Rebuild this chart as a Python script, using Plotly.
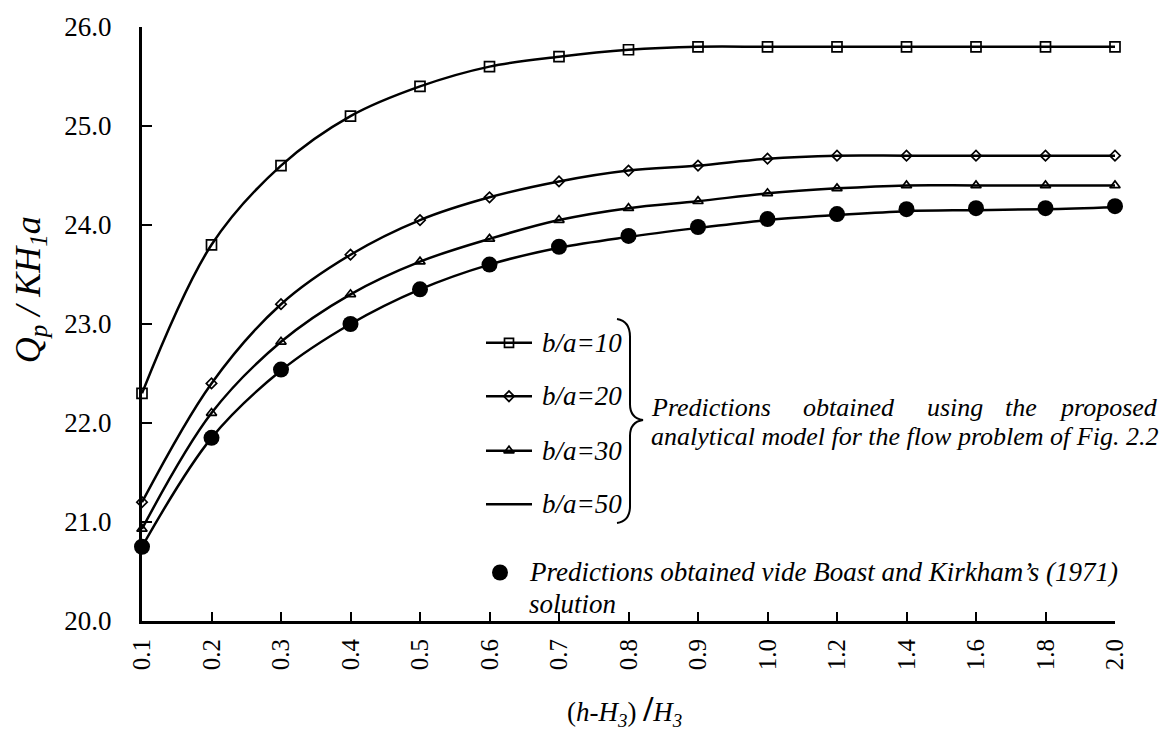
import plotly.graph_objects as go

# Relative head (h-H3)/H3 — category positions along the x axis
x_labels = ['0.1', '0.2', '0.3', '0.4', '0.5', '0.6', '0.7', '0.8', '0.9',
            '1.0', '1.2', '1.4', '1.6', '1.8', '2.0']

# Dimensionless discharge Qp/(K H1 a) from the analytical model
ba10 = [22.30, 23.80, 24.60, 25.10, 25.40, 25.60, 25.70, 25.77, 25.80,
        25.80, 25.80, 25.80, 25.80, 25.80, 25.80]
ba20 = [21.20, 22.40, 23.20, 23.70, 24.05, 24.28, 24.44, 24.55, 24.60,
        24.67, 24.70, 24.70, 24.70, 24.70, 24.70]
ba30 = [20.93, 22.10, 22.82, 23.30, 23.63, 23.86, 24.05, 24.17, 24.24,
        24.32, 24.37, 24.40, 24.40, 24.40, 24.40]
ba50 = [20.75, 21.85, 22.53, 23.00, 23.35, 23.60, 23.77, 23.88, 23.97,
        24.05, 24.10, 24.14, 24.15, 24.16, 24.18]

# Boast and Kirkham (1971) solution
boast_kirkham = [20.75, 21.85, 22.54, 23.00, 23.35, 23.60, 23.78, 23.89, 23.98,
                 24.06, 24.11, 24.16, 24.17, 24.17, 24.19]

y_ticks = [20, 21, 22, 23, 24, 25, 26]

FONT = 'Liberation Serif, Times New Roman, serif'
W, H = 1173, 751
L, R, T, B = 142, 58, 21, 130
PW, PH = W - L - R, H - T - B


def px(x):
    return (x - L) / PW


def py(y):
    return (H - B - y) / PH


fig = go.Figure()

line = dict(color='black', width=2.5, shape='spline', smoothing=1.0)
series = [
    (ba10, dict(symbol='square-open', size=10, color='black', line=dict(width=1.7))),
    (ba20, dict(symbol='diamond-open', size=8, color='black', line=dict(width=1.7))),
    (ba30, dict(symbol='triangle-up-open', size=9, color='black', line=dict(width=1.7))),
]
for vals, mk in series:
    fig.add_trace(go.Scatter(x=x_labels, y=vals, mode='lines+markers', line=line,
                             marker=mk, cliponaxis=False, showlegend=False))
fig.add_trace(go.Scatter(x=x_labels, y=ba50, mode='lines', line=line,
                         cliponaxis=False, showlegend=False))
fig.add_trace(go.Scatter(x=x_labels, y=boast_kirkham, mode='markers',
                         marker=dict(symbol='circle', size=16, color='black'),
                         cliponaxis=False, showlegend=False))

# Key: sample lines with their markers, placed in pixel space on an overlay axis
key_rows = [('b/a=10', 340, 'square-open', 9), ('b/a=20', 394, 'diamond-open', 8),
            ('b/a=30', 449, 'triangle-up-open', 9), ('b/a=50', 503, None, 0)]
shapes = []
annotations = []
for label, yy, sym, sz in key_rows:
    shapes.append(dict(type='line', xref='paper', yref='paper',
                       x0=px(486), x1=px(532), y0=py(yy), y1=py(yy),
                       line=dict(color='black', width=2.5)))
    if sym:
        fig.add_trace(go.Scatter(x=[509], y=[yy], xaxis='x2', yaxis='y2', mode='markers',
                                 marker=dict(symbol=sym, size=sz, color='black',
                                             line=dict(width=1.7)),
                                 showlegend=False))
    annotations.append(dict(xref='paper', yref='paper', x=px(540), y=py(yy),
                            xanchor='left', yanchor='middle', showarrow=False,
                            text='<i>' + label + '</i>',
                            font=dict(family=FONT, size=27, color='black')))

fig.add_trace(go.Scatter(x=[500], y=[572], xaxis='x2', yaxis='y2', mode='markers',
                         marker=dict(symbol='circle', size=16, color='black'),
                         showlegend=False))

# Curly brace grouping the model curves
brace = ('M {a},{b} Q {c},{d} {c},{e} L {c},{f} Q {c},{g} {h},{i} '
         'Q {c},{j} {c},{k} L {c},{l} Q {c},{m} {a},{n}').format(
    a=px(617), b=py(316), c=px(630), d=py(318), e=py(334), f=py(402),
    g=py(416), h=px(643), i=py(418), j=py(420), k=py(434), l=py(505),
    m=py(520), n=py(522))
shapes.append(dict(type='path', xref='paper', yref='paper', path=brace,
                   line=dict(color='black', width=2)))

txt_font = dict(family=FONT, size=26, color='black')
# first line, justified word by word (evenly spread between 649 and 1160)
for word, xx, anchor in [('Predictions', 649, 'left'), ('obtained', 801, 'left'),
                         ('using', 925, 'left'), ('the', 1003, 'left'),
                         ('proposed', 1160, 'right')]:
    annotations.append(dict(xref='paper', yref='paper', x=px(xx), y=py(405),
                            xanchor=anchor, yanchor='middle', showarrow=False,
                            text='<i>' + word + '</i>', font=txt_font))
annotations.append(dict(xref='paper', yref='paper', x=px(649), y=py(435),
                        xanchor='left', yanchor='middle', showarrow=False,
                        text='<i>analytical model for the flow problem of Fig. 2.2</i>',
                        font=txt_font))
bk_font = dict(family=FONT, size=27, color='black')
annotations.append(dict(xref='paper', yref='paper', x=px(527), y=py(572),
                        xanchor='left', yanchor='middle', showarrow=False,
                        text="<i>Predictions obtained vide Boast and Kirkham’s (1971)</i>",
                        font=bk_font))
annotations.append(dict(xref='paper', yref='paper', x=px(527), y=py(604),
                        xanchor='left', yanchor='middle', showarrow=False,
                        text='<i>solution</i>', font=bk_font))

# Axis titles
annotations.append(dict(xref='paper', yref='paper', x=px(30), y=py(287),
                        xanchor='center', yanchor='middle', showarrow=False, textangle=-90,
                        text='<i>Q<sub>p</sub> / KH<sub>1</sub>a</i>',
                        font=dict(family=FONT, size=36, color='black')))
annotations.append(dict(xref='paper', yref='paper', x=px(624), y=py(711),
                        xanchor='center', yanchor='middle', showarrow=False,
                        text='(<i>h</i>-<i>H<sub>3</sub></i>) <b><span style="font-size:36px">/</span></b><i>H<sub>3</sub></i>',
                        font=dict(family=FONT, size=27, color='black')))

fig.update_layout(
    width=W, height=H,
    margin=dict(l=L, r=R, t=T, b=B),
    paper_bgcolor='white', plot_bgcolor='white',
    shapes=shapes, annotations=annotations,
    xaxis=dict(type='category', range=[0, len(x_labels) - 1], showgrid=False,
               zeroline=False, showline=True, linecolor='black', linewidth=3,
               ticks='inside', ticklen=9, tickwidth=1.5, tickcolor='black',
               tickangle=-90, ticklabelstandoff=5,
               tickfont=dict(family=FONT, size=25, color='black')),
    yaxis=dict(range=[20, 26], tickvals=y_ticks, tickformat='.1f', showgrid=False,
               zeroline=False, showline=True, linecolor='black', linewidth=3,
               ticks='inside', ticklen=10, tickwidth=1.5, tickcolor='black',
               ticklabelstandoff=22,
               tickfont=dict(family=FONT, size=27, color='black')),
    xaxis2=dict(overlaying='x', range=[L, W - R], visible=False, anchor='y2'),
    yaxis2=dict(overlaying='y', range=[H - B, T], visible=False, anchor='x2'),
)

fig.write_html('out.html')
